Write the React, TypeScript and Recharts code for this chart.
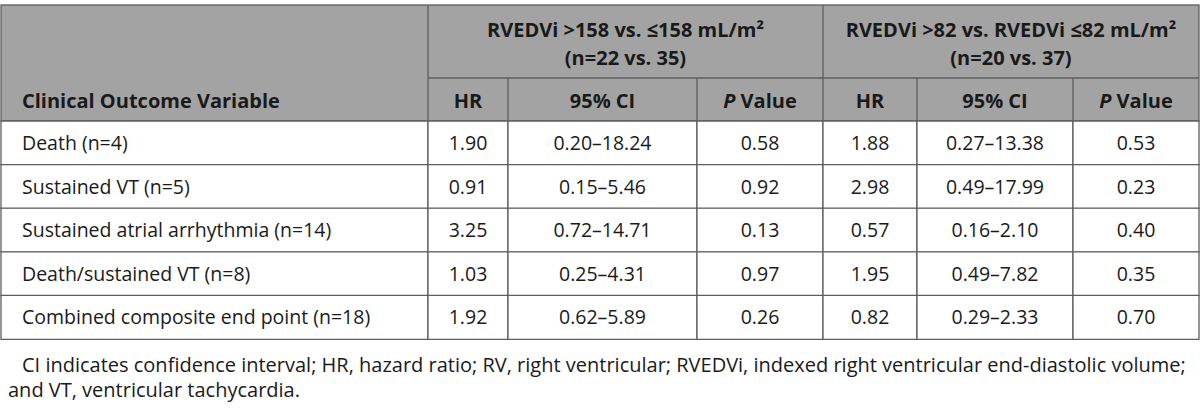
import { ComposedChart, Bar, XAxis, YAxis, LabelList, Customized } from 'recharts';

const outcomes = [
  'Death (n=4)',
  'Sustained VT (n=5)',
  'Sustained atrial arrhythmia (n=14)',
  'Death/sustained VT (n=8)',
  'Combined composite end point (n=18)',
];
const hr158 = ['1.90', '0.91', '3.25', '1.03', '1.92'];
const ci158 = ['0.20–18.24', '0.15–5.46', '0.72–14.71', '0.25–4.31', '0.62–5.89'];
const p158 = ['0.58', '0.92', '0.13', '0.97', '0.26'];
const hr82 = ['1.88', '2.98', '0.57', '1.95', '0.82'];
const ci82 = ['0.27–13.38', '0.49–17.99', '0.16–2.10', '0.49–7.82', '0.29–2.33'];
const p82 = ['0.53', '0.23', '0.40', '0.35', '0.70'];

const groupTitles = [
  ['RVEDVi >158 vs. ≤158 mL/m²', '(n=22 vs. 35)'],
  ['RVEDVi >82 vs. RVEDVi ≤82 mL/m²', '(n=20 vs. 37)'],
];
const footnote = [
  'CI indicates confidence interval; HR, hazard ratio; RV, right ventricular; RVEDVi, indexed right ventricular end-diastolic volume;',
  'and VT, ventricular tachycardia.',
];

const rows = outcomes.map((name, i) => ({
  name,
  hr158: hr158[i],
  ci158: ci158[i],
  p158: p158[i],
  hr82: hr82[i],
  ci82: ci82[i],
  p82: p82[i],
}));

const FONT = '"Open Sans", "Noto Sans", sans-serif';
const LINE = '#5e5e5e';
const HEAD_BG = '#a3a3a3';
const TEXT = '#1a1a1a';
const FS = 19.5;
const FS_HEAD = 20;
const FS_NOTE = 20;

// column keys and widths (px) left to right
const COLS = ['name', 'hr158', 'ci158', 'p158', 'hr82', 'ci82', 'p82'];
const WIDTHS = [427, 80, 189, 126, 94, 156, 126];
const LEFT = 1;
const HEAD_TOP = 5;
const HEAD_MID = 78;
const HEAD_BOTTOM = 121;
const BODY_BOTTOM = 339;

const edges = WIDTHS.reduce<number[]>((acc, w) => [...acc, acc[acc.length - 1] + w], [LEFT]);

const cellLabel = (left: boolean) => (props: any) => {
  const { x, y, width, height, value } = props;
  return (
    <text
      x={left ? x + 21 : x + width / 2}
      y={y + height / 2}
      dy="0.36em"
      textAnchor={left ? 'start' : 'middle'}
      fontFamily={FONT}
      fontSize={FS}
      fill={TEXT}
    >
      {value}
    </text>
  );
};

function Header() {
  const subTitles = ['HR', '95% CI', 'P Value'];
  return (
    <g fontFamily={FONT} fontSize={FS_HEAD} fontWeight={700} fill={TEXT}>
      <rect
        x={LEFT}
        y={HEAD_TOP}
        width={edges[edges.length - 1] - LEFT}
        height={HEAD_BOTTOM - HEAD_TOP}
        fill={HEAD_BG}
        stroke={LINE}
        strokeWidth={1.3}
      />
      <line x1={edges[1]} x2={edges[1]} y1={HEAD_TOP} y2={HEAD_BOTTOM} stroke={LINE} strokeWidth={1.3} />
      <line x1={edges[4]} x2={edges[4]} y1={HEAD_TOP} y2={HEAD_BOTTOM} stroke={LINE} strokeWidth={1.3} />
      <line x1={edges[1]} x2={edges[7]} y1={HEAD_MID} y2={HEAD_MID} stroke={LINE} strokeWidth={1.3} />
      {[2, 3, 5, 6].map((k) => (
        <line key={k} x1={edges[k]} x2={edges[k]} y1={HEAD_MID} y2={HEAD_BOTTOM} stroke={LINE} strokeWidth={1.3} />
      ))}
      <text x={LEFT + 21} y={108} stroke="none">Clinical Outcome Variable</text>
      {groupTitles.map((g, gi) => {
        const cx = (edges[1 + gi * 3] + edges[4 + gi * 3]) / 2;
        return (
          <g key={gi}>
            <text x={cx} y={37} textAnchor="middle">{g[0]}</text>
            <text x={cx} y={65} textAnchor="middle">{g[1]}</text>
            {subTitles.map((s, si) => {
              const c = (edges[1 + gi * 3 + si] + edges[2 + gi * 3 + si]) / 2;
              return (
                <text key={si} x={c} y={108} textAnchor="middle">
                  {s === 'P Value' ? (
                    <>
                      <tspan fontStyle="italic">P</tspan> Value
                    </>
                  ) : (
                    s
                  )}
                </text>
              );
            })}
          </g>
        );
      })}
    </g>
  );
}

function Footnote() {
  return (
    <g fontFamily={FONT} fontSize={FS_NOTE} fill={TEXT}>
      <text x={22} y={372}>{footnote[0]}</text>
      <text x={8} y={397}>{footnote[1]}</text>
    </g>
  );
}

export default function App() {
  return (
    <div style={{ width: 1200, height: 410, background: '#fff' }}>
      <style>{'body{margin:0}'}</style>
      <ComposedChart
        width={1200}
        height={410}
        data={rows}
        layout="vertical"
        barCategoryGap={0}
        margin={{ top: HEAD_BOTTOM, bottom: 410 - BODY_BOTTOM, left: LEFT, right: 1200 - edges[edges.length - 1] }}
      >
        <XAxis type="number" hide domain={[0, edges[edges.length - 1] - LEFT]} />
        <YAxis type="category" dataKey="name" hide />
        {COLS.map((key, i) => (
          <Bar
            key={key}
            dataKey={() => WIDTHS[i]}
            stackId="row"
            fill="#fff"
            stroke={LINE}
            strokeWidth={1.3}
            isAnimationActive={false}
          >
            <LabelList dataKey={key} content={cellLabel(i === 0)} />
          </Bar>
        ))}
        <Customized component={Header} />
        <Customized component={Footnote} />
      </ComposedChart>
    </div>
  );
}
